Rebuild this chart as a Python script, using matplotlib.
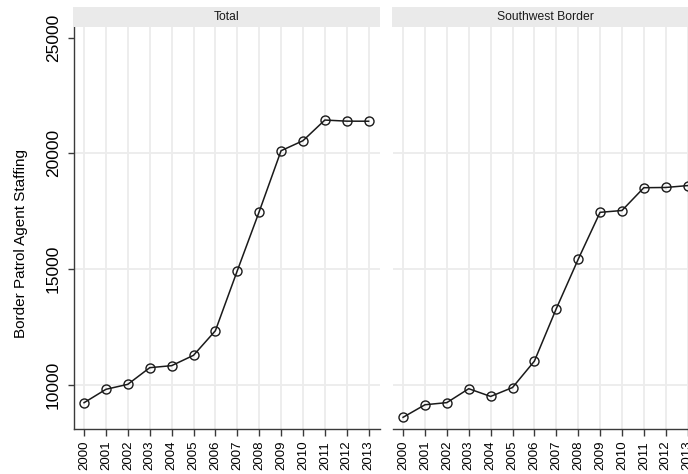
import matplotlib.pyplot as plt
import numpy as np

plt.rcParams['font.family'] = ['Liberation Sans', 'DejaVu Sans']

years = list(range(2000, 2014))
total = [9236, 9814, 10030, 10748, 10835, 11282, 12345, 14935,
         17483, 20117, 20549, 21442, 21394, 21391]
southwest = [8605, 9147, 9239, 9840, 9506, 9891, 11032, 13297,
             15428, 17457, 17535, 18520, 18530, 18611]
panel_titles = ['Total', 'Southwest Border']
y_ticks = [10000, 15000, 20000, 25000]
y_grid = [10000, 15000, 20000]
y_label = 'Border Patrol Agent Staffing'

W, H = 688, 474
fig = plt.figure(figsize=(W / 100, H / 100), dpi=100)


def px_box(x0, y0, x1, y1):
    # pixel box (top-left origin) -> figure fraction
    return [x0 / W, 1 - y1 / H, (x1 - x0) / W, (y1 - y0) / H]


grid_col = '#ececec'
axis_col = '#3a3a3a'

for num, (title, series) in enumerate(zip(panel_titles, [total, southwest])):
    x0 = 74 + num * 319
    ax = fig.add_axes(px_box(x0, 27, x0 + 306, 429))
    ax.set_xlim(1999.54, 2013.52)
    ax.set_ylim(8100, 25460)

    for yr in years:
        ax.axvline(yr, color=grid_col, lw=1.3, zorder=0)
    for gy in y_grid:
        ax.axhline(gy, color=grid_col, lw=1.3, zorder=0)

    ax.plot(years, series, color='#1a1a1a', lw=1.1, marker='o',
            markersize=6.5, markerfacecolor='none',
            markeredgecolor='#1a1a1a', markeredgewidth=1.0, zorder=3)

    ax.set_xticks(years)
    ax.set_xticklabels([str(y) for y in years], rotation=90, fontsize=9.5)
    ax.tick_params(axis='x', length=5, width=1, color=axis_col, pad=3.5)

    for side in ['top', 'right']:
        ax.spines[side].set_visible(False)
    ax.spines['bottom'].set_color(axis_col)
    ax.spines['bottom'].set_linewidth(1)

    if num == 0:
        ax.set_yticks(y_ticks)
        ax.set_yticklabels([str(v) for v in y_ticks], rotation=90,
                           va='center', fontsize=12.5)
        ax.tick_params(axis='y', length=4, width=1, color=axis_col, pad=5.5)
        ax.spines['left'].set_color(axis_col)
        ax.spines['left'].set_linewidth(1)
    else:
        ax.set_yticks([])
        ax.spines['left'].set_visible(False)

    # strip above each panel
    sax = fig.add_axes(px_box(x0 - 1, 7, x0 + 306, 27))
    sax.set_facecolor('#eaeaea')
    sax.set_xticks([])
    sax.set_yticks([])
    for sp in sax.spines.values():
        sp.set_visible(False)
    sax.text(0.5, 0.5, title, ha='center', va='center', fontsize=8.7,
             color='#1a1a1a', transform=sax.transAxes)

fig.text(21 / W, 1 - 243.5 / H, y_label, rotation=90, ha='center',
         va='center', fontsize=11)

fig.savefig('out.png', dpi=100)
